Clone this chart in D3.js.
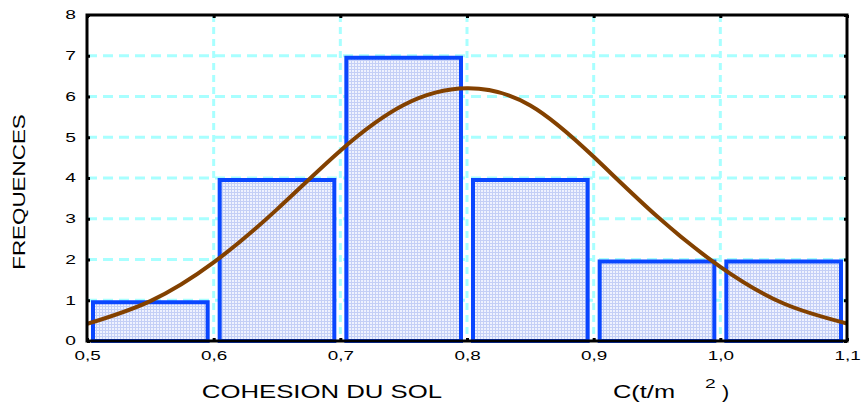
<!DOCTYPE html>
<html>
<head>
<meta charset="utf-8">
<script src="https://cdn.jsdelivr.net/npm/d3@7"></script>
<style>
  body { margin: 0; background: #fff; }
  text { font-family: "Liberation Sans", Arial, sans-serif; fill: #000; }
</style>
</head>
<body>
<div id="chart"></div>
<script>
// histogram bins (lower bound) and counts
var binStarts = [0.5, 0.6, 0.7, 0.8, 0.9, 1.0];
var counts = [1, 4, 7, 4, 2, 2];
var binWidth = 0.1;

// fitted normal curve
var curveX = [0.50, 0.55, 0.60, 0.65, 0.70, 0.75, 0.80, 0.85, 0.90, 0.95, 1.00, 1.05, 1.10];
var curveY = [0.42, 0.98, 1.93, 3.23, 4.67, 5.79, 6.20, 5.78, 4.52, 3.06, 1.82, 0.92, 0.43];

var xTicks = [0.5, 0.6, 0.7, 0.8, 0.9, 1.0, 1.1];
var xTickLabels = ["0,5", "0,6", "0,7", "0,8", "0,9", "1,0", "1,1"];
var yTicks = [0, 1, 2, 3, 4, 5, 6, 7, 8];

var W = 863, H = 408;
var margin = {top: 15, right: 16, bottom: 67, left: 87},
    width = W - margin.left - margin.right,
    height = H - margin.top - margin.bottom;

var x = d3.scaleLinear().domain([0.5, 1.1]).range([0, width]);
var y = d3.scaleLinear().domain([0, 8]).range([height, 0]);

var svg = d3.select("#chart").append("svg")
    .attr("width", W)
    .attr("height", H);

var defs = svg.append("defs");
var pat = defs.append("pattern")
    .attr("id", "dots")
    .attr("patternUnits", "userSpaceOnUse")
    .attr("width", 3).attr("height", 3);
pat.append("rect").attr("width", 3).attr("height", 3).attr("fill", "#eff2fe");
pat.append("rect").attr("width", 3).attr("height", 1).attr("fill", "#c4cff6");
pat.append("rect").attr("width", 1).attr("height", 3).attr("fill", "#c4cff6");

defs.append("clipPath").attr("id", "clip")
  .append("rect").attr("width", width).attr("height", height);

var g = svg.append("g")
    .attr("transform", "translate(" + margin.left + "," + margin.top + ")");

// stretch text horizontally like the original
function stretch(sel, k) {
  sel.each(function() {
    var len = this.getComputedTextLength();
    d3.select(this).attr("textLength", len * k).attr("lengthAdjust", "spacingAndGlyphs");
  });
}

// grid
g.append("g").selectAll("line")
    .data(yTicks.slice(1, -1))
    .enter().append("line")
    .attr("x1", 0).attr("x2", width)
    .attr("y1", function(d) { return y(d); })
    .attr("y2", function(d) { return y(d); })
    .style("stroke", "#a8ffff")
    .style("stroke-width", 3)
    .style("stroke-dasharray", "10,6");

g.append("g").selectAll("line")
    .data(xTicks.slice(1, -1))
    .enter().append("line")
    .attr("y1", 0).attr("y2", height)
    .attr("x1", function(d) { return x(d); })
    .attr("x2", function(d) { return x(d); })
    .style("stroke", "#a8ffff")
    .style("stroke-width", 3)
    .style("stroke-dasharray", "7,5");

// bars
var bars = binStarts.map(function(d, i) { return {x0: d, x1: d + binWidth, n: counts[i]}; });
var inset = 6;

g.append("g").selectAll("rect")
    .data(bars)
    .enter().append("rect")
    .attr("x", function(d) { return x(d.x0) + inset; })
    .attr("width", function(d) { return x(d.x1) - x(d.x0) - 2 * inset; })
    .attr("y", function(d) { return y(d.n) + 2; })
    .attr("height", function(d) { return y(0) - y(d.n) - 2; })
    .style("fill", "url(#dots)")
    .style("stroke", "#0a46ff")
    .style("stroke-width", 4);

// normal curve
var line = d3.line()
    .x(function(d) { return x(d[0]); })
    .y(function(d) { return y(d[1]); })
    .curve(d3.curveNatural);

g.append("path")
    .datum(curveX.map(function(d, i) { return [d, curveY[i]]; }))
    .attr("clip-path", "url(#clip)")
    .attr("d", line)
    .style("fill", "none")
    .style("stroke", "#834100")
    .style("stroke-width", 4);

// axes
var xAxis = d3.axisBottom(x).tickValues(xTicks)
    .tickFormat(function(d, i) { return xTickLabels[i]; })
    .tickSize(-3).tickPadding(10);
var yAxis = d3.axisLeft(y).tickValues(yTicks).tickSize(-3).tickPadding(11);

var gx = g.append("g")
    .attr("transform", "translate(0," + height + ")")
    .call(xAxis);
var gy = g.append("g").call(yAxis);
g.append("g").attr("transform", "translate(0,0)")
    .call(d3.axisTop(x).tickValues(xTicks).tickSize(-3).tickFormat(""));
g.append("g").attr("transform", "translate(" + width + ",0)")
    .call(d3.axisRight(y).tickValues(yTicks).tickSize(-3).tickFormat(""));

g.selectAll(".domain").remove();
g.selectAll(".tick line").style("stroke", "#000").style("stroke-width", 3);

gx.selectAll("text").style("font-size", "13px");
gy.selectAll("text").style("font-size", "12px");
stretch(gx.selectAll("text"), 1.45);
stretch(gy.selectAll("text"), 1.6);

// frame
g.append("rect")
    .attr("width", width).attr("height", height)
    .style("fill", "none")
    .style("stroke", "#000")
    .style("stroke-width", 3);

// axis titles
svg.append("text")
    .attr("transform", "translate(25,192) rotate(-90)")
    .style("text-anchor", "middle")
    .style("font-size", "16px")
    .text("FREQUENCES")
    .call(stretch, 1.4);

svg.append("text")
    .attr("x", 322).attr("y", 398)
    .style("text-anchor", "middle")
    .style("font-size", "18px")
    .text("COHESION DU SOL")
    .call(stretch, 1.43);

svg.append("text")
    .attr("x", 613).attr("y", 398)
    .style("font-size", "18px")
    .text("C(t/m")
    .call(stretch, 1.41);

svg.append("text")
    .attr("x", 705).attr("y", 388)
    .style("font-size", "12px")
    .text("2")
    .call(stretch, 1.6);

svg.append("text")
    .attr("x", 722).attr("y", 398)
    .style("font-size", "18px")
    .text(")")
    .call(stretch, 1.2);
</script>
</body>
</html>
